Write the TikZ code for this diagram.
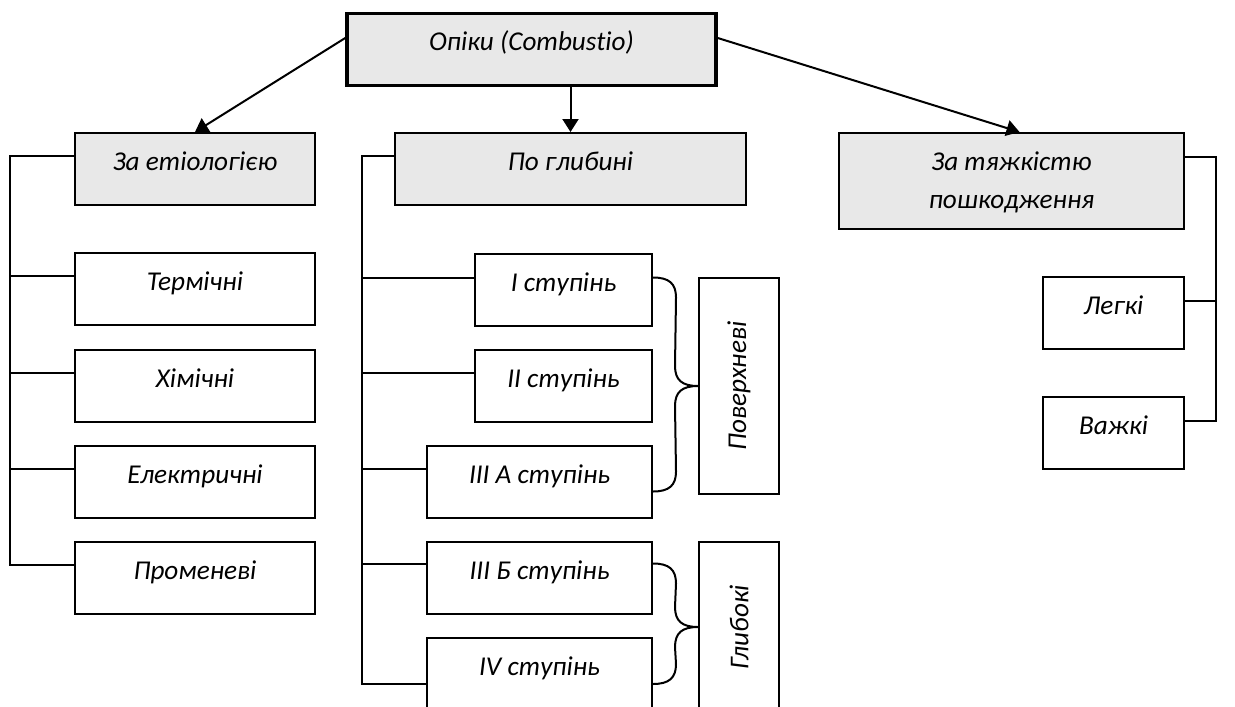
\documentclass[tikz,border=0pt]{standalone}
\usepackage{fontspec}
\setmainfont{Carlito}[Ligatures=NoCommon]
\usetikzlibrary{arrows.meta,calc}
\definecolor{boxgray}{HTML}{E8E8E8}
\tikzset{
  base/.style={draw=black, line width=1pt, inner xsep=2pt, inner ysep=0pt,
    font=\fontsize{13.6}{19}\selectfont\itshape, text height=18.75pt, text depth=17.25pt},
  gbox/.style={base, fill=boxgray},
  wbox/.style={base, fill=white},
  rootbox/.style={base, fill=boxgray, line width=1.75pt},
  vbox/.style={draw=black, line width=1pt, fill=white, rotate=90, inner sep=0pt,
    font=\fontsize{13.6}{19}\selectfont\itshape, minimum height=40pt},
  conn/.style={line width=1pt},
  arr/.style={line width=1pt, -{Triangle[length=6.5pt,width=8pt]}},
}
\begin{document}
\begin{tikzpicture}[x=0.5pt,y=-0.5pt]
\clip (0,0) rectangle (1235,706);
\fill[white] (0,0) rectangle (1235,706);
% top level
\node (root) [rootbox, minimum width=184.5pt] at (531.5,49.5) {Опіки (Combustio)};
\node (etio) [gbox, minimum width=120pt] at (195,169) {За етіологією};
\node (depth) [gbox, minimum width=175.5pt] at (570.5,169) {По глибині};
\node (sev) [gbox, minimum width=172.5pt, text depth=29.25pt] at (1011.5,181)
  {\begin{tabular}[t]{@{}c@{}}За тяжкістю\\пошкодження\end{tabular}};
% etiology items
\node (term) [wbox, minimum width=120pt] at (195,289) {Термічні};
\node (chem) [wbox, minimum width=120pt] at (195,385.5) {Хімічні};
\node (elec) [wbox, minimum width=120pt] at (195,481.5) {Електричні};
\node (rad)  [wbox, minimum width=120pt] at (195,577.5) {Променеві};
% depth items
\node (d1) [wbox, minimum width=88.5pt] at (563.5,289.5) {I ступінь};
\node (d2) [wbox, minimum width=88.5pt] at (563.5,385.5) {II ступінь};
\node (d3) [wbox, minimum width=112.5pt] at (539.5,481.5) {III А ступінь};
\node (d4) [wbox, minimum width=112.5pt] at (539.5,577.5) {III Б ступінь};
\node (d5) [wbox, minimum width=112.5pt] at (539.5,674) {IV ступінь};
\node (pov) [vbox, minimum width=108pt] at (739,386) {Поверхневі};
\node (glib) [vbox, minimum width=85pt] at (739,627) {Глибокі};
% severity items
\node (light) [wbox, minimum width=70.5pt] at (1113.5,313) {Легкі};
\node (heavy) [wbox, minimum width=70.5pt] at (1113.5,433) {Важкі};
% arrows
\draw[arr] ($(root.west)+(0,-11.5)$) -- (etio.north);
\draw[arr] (depth.north |- root.south) -- (depth.north);
\draw[arr] ($(root.east)+(0,-11.5)$) -- ($(sev.north)+(8,0)$);
% etiology bus
\draw[conn] ($(etio.north west)+(0,24)$) -- ++(-64,0) |- ($(rad.north west)+(0,24)$);
\draw[conn] ($(term.north west)+(0,24)$) -- ++(-64,0);
\draw[conn] ($(chem.north west)+(0,24)$) -- ++(-64,0);
\draw[conn] ($(elec.north west)+(0,24)$) -- ++(-64,0);
% depth bus
\draw[conn] ($(depth.north west)+(0,24)$) -- ++(-32,0) |- ($(d5.north west)+(0,47)$);
\draw[conn] ($(d1.north west)+(0,25)$) -- ++(-112,0);
\draw[conn] ($(d2.north west)+(0,24)$) -- ++(-112,0);
\draw[conn] ($(d3.north west)+(0,24)$) -- ++(-64,0);
\draw[conn] ($(d4.north west)+(0,23)$) -- ++(-64,0);
% severity bus
\draw[conn] ($(sev.north east)+(0,25)$) -- ++(31,0) |- ($(heavy.north east)+(0,25)$);
\draw[conn] ($(light.north east)+(0,25)$) -- ++(31,0);
% braces
\coordinate (b1s) at ($(d1.north east)+(0,25)$);
\coordinate (b1e) at ($(d3.north east)+(0,47)$);
\draw[conn] (b1s) .. controls +(16,0) and +(0,-14) .. ($(b1s)+(23,20)$)
  -- ($(pov.north)+(-23,-20)$) .. controls +(0,14) and +(-16,0) .. (pov.north)
  .. controls +(-16,0) and +(0,-14) .. ($(pov.north)+(-23,20)$)
  -- ($(b1e)+(23,-20)$) .. controls +(0,14) and +(16,0) .. (b1e);
\coordinate (b2s) at ($(d4.north east)+(0,23)$);
\coordinate (b2e) at ($(d5.north east)+(0,47)$);
\draw[conn] (b2s) .. controls +(16,0) and +(0,-14) .. ($(b2s)+(23,20)$)
  -- ($(glib.north)+(-23,-20)$) .. controls +(0,14) and +(-16,0) .. (glib.north)
  .. controls +(-16,0) and +(0,-14) .. ($(glib.north)+(-23,20)$)
  -- ($(b2e)+(23,-20)$) .. controls +(0,14) and +(16,0) .. (b2e);
\end{tikzpicture}
\end{document}
